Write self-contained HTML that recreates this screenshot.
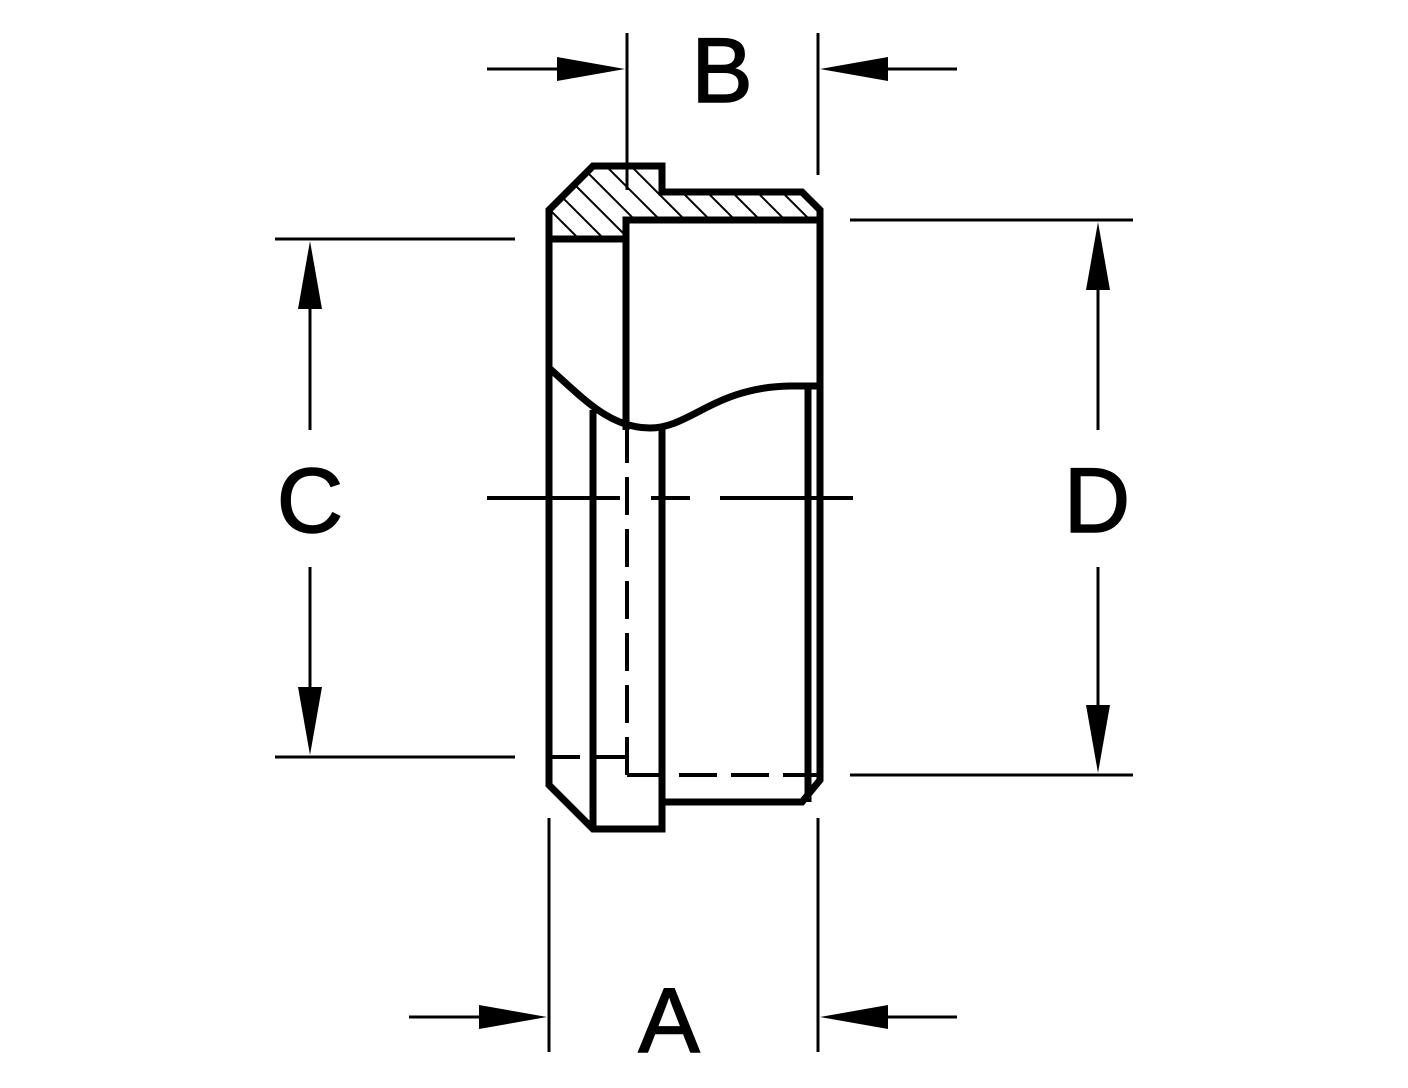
<!DOCTYPE html>
<html><head><style>html,body{margin:0;padding:0;background:#fff}svg{display:block}</style></head>
<body>
<svg width="1408" height="1088" viewBox="0 0 1408 1088" xmlns="http://www.w3.org/2000/svg">
<defs>
<clipPath id="h"><polygon points="549,210 593,166 662,166 662,192 802,192 820,210 820,220 626,220 626,239 549,239"/></clipPath>
</defs>
<g clip-path="url(#h)" stroke="#000" stroke-width="2">
<line x1="440" y1="100" x2="640" y2="300"/>
<line x1="465" y1="100" x2="665" y2="300"/>
<line x1="490" y1="100" x2="690" y2="300"/>
<line x1="515" y1="100" x2="715" y2="300"/>
<line x1="540" y1="100" x2="740" y2="300"/>
<line x1="565" y1="100" x2="765" y2="300"/>
<line x1="590" y1="100" x2="790" y2="300"/>
<line x1="615" y1="100" x2="815" y2="300"/>
<line x1="640" y1="100" x2="840" y2="300"/>
<line x1="665" y1="100" x2="865" y2="300"/>
<line x1="690" y1="100" x2="890" y2="300"/>
<line x1="715" y1="100" x2="915" y2="300"/>
</g>
<g fill="none" stroke="#000" stroke-width="7" stroke-linejoin="miter">
<polygon points="549,210 593,166 662,166 662,192 802,192 820,210 820,780 802,802 662,802 662,829 593,829 549,785"/>
<polyline points="626,430 626,220 820,220"/>
<line x1="549" y1="239" x2="626" y2="239"/>
<path d="M549,368 C585,400 610,428 650,428 C690,428 715,387 790,386 L820,386"/>
<line x1="593" y1="410" x2="593" y2="829"/>
<line x1="662" y1="428" x2="662" y2="802"/>
<line x1="808" y1="388" x2="808" y2="802"/>
</g>
<g stroke="#000" stroke-width="4" fill="none">
<line x1="627" y1="425" x2="627" y2="775" stroke-dasharray="38 14"/>
<line x1="627" y1="775" x2="820" y2="775" stroke-dasharray="38 14"/>
<line x1="487" y1="498" x2="620" y2="498"/>
<line x1="651" y1="498" x2="690" y2="498"/>
<line x1="720" y1="498" x2="853" y2="498"/>
<line x1="549" y1="757" x2="580" y2="757"/>
<line x1="595" y1="757" x2="626" y2="757"/>
</g>
<g stroke="#000" stroke-width="3" fill="none">
<line x1="627" y1="33" x2="627" y2="190"/>
<line x1="818" y1="33" x2="818" y2="175"/>
<line x1="487" y1="69" x2="600" y2="69"/>
<line x1="957" y1="69" x2="840" y2="69"/>
<line x1="549" y1="818" x2="549" y2="1052"/>
<line x1="818" y1="818" x2="818" y2="1052"/>
<line x1="409" y1="1017" x2="520" y2="1017"/>
<line x1="957" y1="1017" x2="840" y2="1017"/>
<line x1="275" y1="239" x2="515" y2="239"/>
<line x1="275" y1="757" x2="515" y2="757"/>
<line x1="310" y1="260" x2="310" y2="430"/>
<line x1="310" y1="567" x2="310" y2="735"/>
<line x1="850" y1="220" x2="1133" y2="220"/>
<line x1="850" y1="775" x2="1133" y2="775"/>
<line x1="1098" y1="240" x2="1098" y2="430"/>
<line x1="1098" y1="567" x2="1098" y2="755"/>
</g>
<g fill="#000">
<polygon points="625,69 557,57 557,81"/>
<polygon points="820,69 888,57 888,81"/>
<polygon points="547,1017 479,1005 479,1029"/>
<polygon points="820,1017 888,1005 888,1029"/>
<polygon points="310,241 298,309 322,309"/>
<polygon points="310,755 298,687 322,687"/>
<polygon points="1098,222 1086,290 1110,290"/>
<polygon points="1098,773 1086,705 1110,705"/>
</g>
<g font-family="Liberation Sans, sans-serif" font-size="92" text-anchor="middle" fill="#000" stroke="#000" stroke-width="1.5">
<text x="722" y="102">B</text>
<text x="669" y="1052">A</text>
<text x="310" y="532">C</text>
<text x="1097" y="532">D</text>
</g>
</svg>
</body></html>
